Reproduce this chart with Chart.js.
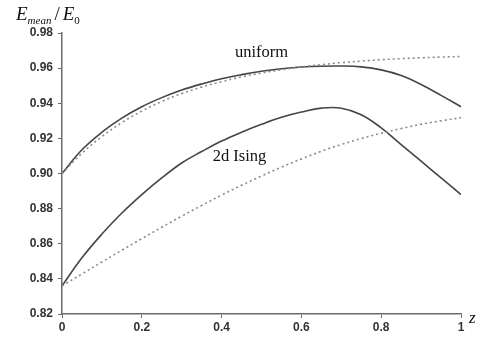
<!DOCTYPE html>
<html>
<head>
<meta charset="utf-8">
<script src="https://cdn.jsdelivr.net/npm/chart.js@4/dist/chart.umd.min.js"></script>
<style>
  html, body { margin: 0; padding: 0; background: #fff; }
  #wrap { width: 482px; height: 343px; }
</style>
</head>
<body>
<div id="wrap"><canvas id="c" width="482" height="343"></canvas></div>
<script>
// z values shared by all four curves
const zValues = [0, 0.05, 0.1, 0.15, 0.2, 0.25, 0.3, 0.35, 0.4, 0.45, 0.5,
                 0.55, 0.6, 0.65, 0.7, 0.75, 0.8, 0.85, 0.9, 0.95, 1];

// E_mean / E_0
const uniformSolid  = [0.900, 0.9135, 0.9235, 0.9315, 0.938, 0.9432, 0.9475, 0.951, 0.954, 0.9563, 0.9582,
                       0.9596, 0.9606, 0.9611, 0.9612, 0.9607, 0.959, 0.9558, 0.9507, 0.9445, 0.938];
const uniformDotted = [0.900, 0.9115, 0.921, 0.929, 0.9355, 0.941, 0.9455, 0.9492, 0.9523, 0.955, 0.9572,
                       0.9591, 0.9607, 0.962, 0.9631, 0.964, 0.9648, 0.9654, 0.9659, 0.9663, 0.9666];
const isingSolid    = [0.836, 0.852, 0.8655, 0.8775, 0.888, 0.8975, 0.906, 0.9125, 0.9185, 0.9235, 0.928,
                       0.932, 0.935, 0.9372, 0.9372, 0.9335, 0.926, 0.9165, 0.907, 0.8975, 0.888];
const isingDotted   = [0.836, 0.8428, 0.8496, 0.8563, 0.8629, 0.8694, 0.8757, 0.8818, 0.8877, 0.8933, 0.8986,
                       0.9036, 0.9083, 0.9127, 0.9165, 0.9199, 0.9229, 0.9256, 0.928, 0.930, 0.9318];

const xTicks = [0, 0.2, 0.4, 0.6, 0.8, 1];
const xTickLabels = ['0', '0.2', '0.4', '0.6', '0.8', '1'];
const yTicks = [0.82, 0.84, 0.86, 0.88, 0.90, 0.92, 0.94, 0.96, 0.98];
const yTickLabels = ['0.82', '0.84', '0.86', '0.88', '0.90', '0.92', '0.94', '0.96', '0.98'];

// curve labels, placed in data coordinates
const curveLabels = [
  { text: 'uniform',  x: 0.50,  y: 0.9686 },
  { text: '2d Ising', x: 0.445, y: 0.9093 }
];

const pts = arr => arr.map((v, i) => ({ x: zValues[i], y: v }));

const solidStyle  = { borderColor: '#454545', borderWidth: 1.6, pointRadius: 0, fill: false, tension: 0.4 };
const dottedStyle = { borderColor: '#8a8a8a', borderWidth: 1.6, pointRadius: 0, fill: false, tension: 0.4, borderDash: [2, 3] };

const axisColor = '#6a6a6a';
const tickFont = { family: 'Arial, "Liberation Sans", sans-serif', size: 12, weight: 'bold' };

const textPlugin = {
  id: 'texts',
  afterDraw(chart) {
    const ctx = chart.ctx;
    const xs = chart.scales.x, ys = chart.scales.y;
    ctx.save();
    ctx.fillStyle = '#111';
    ctx.textBaseline = 'alphabetic';
    ctx.textAlign = 'left';

    // axis title: E_mean / E_0
    let x = 16;
    ctx.font = 'italic 19px "Liberation Serif", "Times New Roman", serif';
    ctx.fillText('E', x, 20);
    x += ctx.measureText('E').width;
    ctx.font = 'italic 11px "Liberation Serif", "Times New Roman", serif';
    ctx.fillText('mean', x, 24);
    x += ctx.measureText('mean').width + 3;
    ctx.font = '19px "Liberation Serif", "Times New Roman", serif';
    ctx.fillText('/', x, 20);
    x += ctx.measureText('/').width + 3;
    ctx.font = 'italic 19px "Liberation Serif", "Times New Roman", serif';
    ctx.fillText('E', x, 20);
    x += ctx.measureText('E').width;
    ctx.font = '11px "Liberation Serif", "Times New Roman", serif';
    ctx.fillText('0', x, 24);

    // x axis name
    ctx.font = 'italic 17px "Liberation Serif", "Times New Roman", serif';
    ctx.fillText('z', 469, 323);

    // curve labels
    ctx.font = '16.5px "Liberation Serif", "Times New Roman", serif';
    ctx.textAlign = 'center';
    ctx.textBaseline = 'middle';
    curveLabels.forEach(l => ctx.fillText(l.text, xs.getPixelForValue(l.x), ys.getPixelForValue(l.y)));
    ctx.restore();
  }
};

new Chart(document.getElementById('c'), {
  type: 'line',
  data: {
    datasets: [
      Object.assign({ data: pts(uniformDotted) }, dottedStyle),
      Object.assign({ data: pts(isingDotted) }, dottedStyle),
      Object.assign({ data: pts(uniformSolid) }, solidStyle),
      Object.assign({ data: pts(isingSolid) }, solidStyle)
    ]
  },
  options: {
    responsive: false,
    animation: false,
    layout: { padding: { top: 33, right: 21, left: 0, bottom: 0 } },
    plugins: { legend: { display: false }, tooltip: { enabled: false } },
    scales: {
      x: {
        type: 'linear', min: 0, max: 1,
        afterBuildTicks: s => { s.ticks = xTicks.map(v => ({ value: v })); },
        afterFit: s => { s.height = 29; },
        ticks: {
          font: tickFont, color: '#333', padding: 2, maxRotation: 0,
          callback: (v) => xTickLabels[xTicks.indexOf(v)]
        },
        grid: { drawOnChartArea: false, tickLength: 4, color: axisColor, tickColor: axisColor },
        border: { color: axisColor, width: 1.5 }
      },
      y: {
        min: 0.82, max: 0.98,
        afterBuildTicks: s => { s.ticks = yTicks.map(v => ({ value: v })); },
        afterFit: s => { s.width = 62; },
        ticks: {
          font: tickFont, color: '#333', padding: 5,
          callback: (v) => yTickLabels[yTicks.findIndex(t => Math.abs(t - v) < 1e-9)]
        },
        grid: { drawOnChartArea: false, tickLength: 4, color: axisColor, tickColor: axisColor },
        border: { color: axisColor, width: 1.5 }
      }
    }
  },
  plugins: [textPlugin]
});
</script>
</body>
</html>
